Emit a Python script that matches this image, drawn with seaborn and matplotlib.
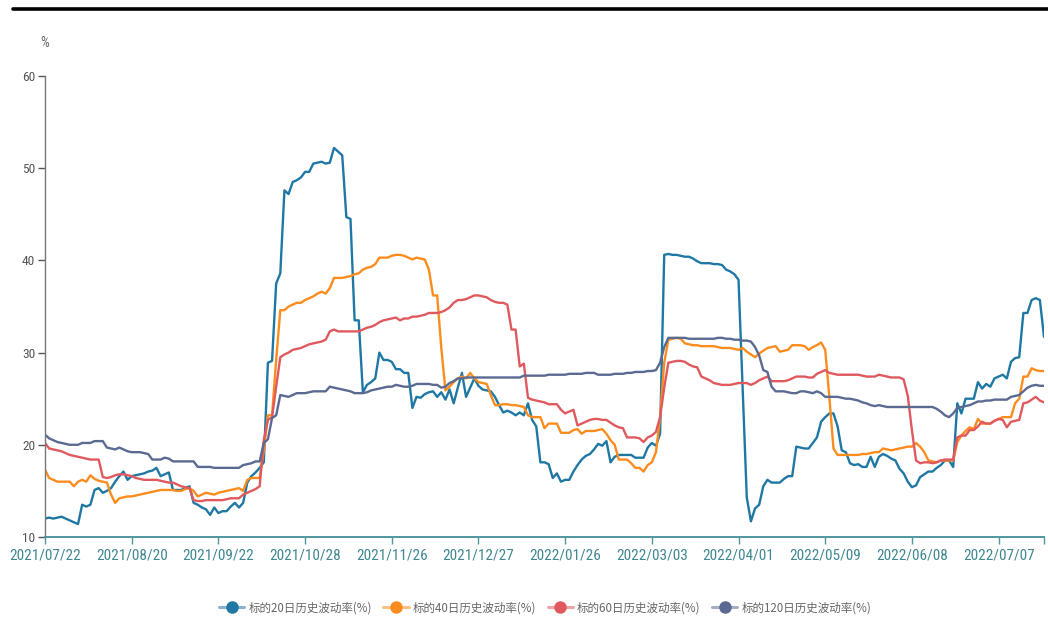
import matplotlib
matplotlib.use("Agg")
import matplotlib.pyplot as plt
from matplotlib.lines import Line2D
from matplotlib import font_manager
import seaborn as sns
import pandas as pd
import numpy as np

# ---------------- data ----------------
tick_labels = ['2021/07/22', '2021/08/20', '2021/09/22', '2021/10/28', '2021/11/26',
               '2021/12/27', '2022/01/26', '2022/03/03', '2022/04/01', '2022/05/09',
               '2022/06/08', '2022/07/07']
series_names = ['标的20日历史波动率(%)', '标的40日历史波动率(%)',
                '标的60日历史波动率(%)', '标的120日历史波动率(%)']

vol20 = [12.0,12.1,12.0,12.1,12.2,12.0,11.8,11.6,11.4,13.5,
         13.3,13.5,15.1,15.3,14.8,15.0,15.3,16.0,16.6,17.1,
         16.2,16.6,16.7,16.8,16.9,17.1,17.2,17.5,16.6,16.8,
         17.0,15.1,15.1,15.1,15.3,15.5,13.7,13.5,13.2,13.0,
         12.4,13.2,12.6,12.8,12.8,13.3,13.7,13.2,13.7,15.9,
         16.6,17.0,17.5,18.1,28.9,29.1,37.5,38.6,47.6,47.2,
         48.5,48.7,49.0,49.6,49.6,50.5,50.6,50.7,50.5,50.6,
         52.2,51.8,51.4,44.7,44.5,33.5,33.5,25.7,26.5,26.8,
         27.2,30.0,29.2,29.2,29.0,28.2,28.2,27.8,27.8,24.0,
         25.2,25.1,25.5,25.7,25.8,25.2,25.7,24.9,26.0,24.5,
         26.2,27.8,25.2,26.2,27.2,26.4,26.0,25.9,25.8,25.2,
         24.3,23.5,23.7,23.5,23.2,23.5,23.2,24.5,22.7,22.0,
         18.1,18.1,17.9,16.4,16.9,16.0,16.2,16.2,17.1,17.8,
         18.4,18.8,19.0,19.5,20.1,19.9,20.4,18.1,18.7,18.9,
         18.9,18.9,18.9,18.6,18.6,18.6,19.7,20.2,19.9,21.2,
         40.6,40.7,40.6,40.6,40.5,40.4,40.4,40.2,39.9,39.7,
         39.7,39.7,39.6,39.6,39.5,39.0,38.8,38.5,37.9,26.0,
         14.3,11.7,13.1,13.5,15.5,16.2,15.9,15.9,15.9,16.3,
         16.6,16.6,19.8,19.7,19.6,19.6,20.2,20.8,22.5,23.0,
         23.4,23.4,22.0,19.4,19.2,18.0,17.8,17.9,17.6,17.6,
         18.7,17.6,18.7,19.0,18.8,18.5,18.3,17.4,16.9,16.0,
         15.4,15.6,16.5,16.8,17.1,17.1,17.5,17.8,18.3,18.3,
         17.6,24.5,23.4,25.0,25.0,25.0,26.8,26.1,26.6,26.3,
         27.2,27.4,27.6,27.2,29.0,29.4,29.5,34.3,34.3,35.7,
         35.9,35.7,31.7]

vol40 = [17.3,16.4,16.2,16.0,16.0,16.0,16.0,15.5,16.0,16.2,
         16.0,16.7,16.3,16.1,16.0,15.9,14.6,13.7,14.2,14.3,
         14.4,14.4,14.5,14.6,14.7,14.8,14.9,15.0,15.1,15.1,
         15.1,15.1,15.0,15.0,15.2,15.3,15.0,14.4,14.6,14.8,
         14.7,14.6,14.8,14.9,15.0,15.1,15.2,15.3,15.0,16.2,
         16.4,16.4,16.4,19.4,23.2,23.2,29.2,34.6,34.6,35.0,
         35.2,35.4,35.4,35.7,35.9,36.1,36.4,36.6,36.4,37.0,
         38.1,38.1,38.1,38.2,38.3,38.5,38.6,39.0,39.2,39.3,
         39.6,40.3,40.3,40.3,40.5,40.6,40.6,40.5,40.3,40.1,
         40.3,40.2,40.1,39.0,36.2,36.2,30.5,25.9,26.3,26.8,
         27.2,27.4,27.2,27.8,27.2,26.8,26.7,26.6,25.4,24.3,
         24.3,24.4,24.4,24.3,24.3,24.2,24.1,23.2,23.0,23.0,
         23.0,21.8,22.3,22.3,22.3,21.3,21.3,21.3,21.6,21.7,
         21.2,21.5,21.5,21.5,21.6,21.7,21.2,20.5,20.0,18.4,
         18.4,18.4,18.0,17.5,17.5,17.1,17.8,18.1,19.2,23.0,
         28.9,31.4,31.5,31.6,31.5,31.0,30.9,30.8,30.8,30.7,
         30.7,30.7,30.7,30.6,30.5,30.5,30.5,30.4,30.3,30.5,
         30.1,29.8,29.5,29.9,30.2,30.5,30.6,30.7,30.1,30.2,
         30.3,30.8,30.8,30.8,30.7,30.3,30.6,30.8,31.1,30.3,
         25.2,19.6,18.9,18.9,18.9,18.9,18.9,18.9,19.0,19.0,
         19.1,19.2,19.2,19.6,19.5,19.4,19.5,19.6,19.7,19.8,
         19.8,20.2,19.8,19.2,18.3,18.2,18.1,18.3,18.3,18.3,
         18.3,20.3,21.0,21.5,21.9,21.7,22.8,22.3,22.3,22.3,
         22.6,22.8,23.0,23.0,23.0,24.5,25.0,27.4,27.4,28.3,
         28.1,28.0,28.0]

vol60 = [20.2,19.6,19.5,19.4,19.3,19.1,18.9,18.8,18.7,18.6,
         18.5,18.4,18.4,18.4,16.5,16.4,16.5,16.7,16.8,16.8,
         16.7,16.6,16.4,16.3,16.2,16.2,16.2,16.2,16.1,16.0,
         15.9,15.9,15.7,15.5,15.4,15.3,14.0,13.9,13.9,14.0,
         14.0,14.0,14.0,14.0,14.1,14.2,14.2,14.2,14.6,14.8,
         15.0,15.2,15.5,20.5,22.7,23.0,26.3,29.5,29.8,30.0,
         30.3,30.4,30.5,30.7,30.9,31.0,31.1,31.2,31.4,32.3,
         32.5,32.3,32.3,32.3,32.3,32.3,32.3,32.5,32.7,32.8,
         33.0,33.3,33.5,33.6,33.7,33.8,33.5,33.7,33.7,33.9,
         33.9,34.0,34.1,34.3,34.3,34.3,34.4,34.6,34.9,35.4,
         35.7,35.7,35.8,36.0,36.2,36.2,36.1,36.0,35.7,35.5,
         35.4,35.4,35.2,32.5,32.5,28.5,28.8,25.1,24.9,24.8,
         24.7,24.6,24.4,24.4,24.4,23.8,23.4,23.6,23.8,22.1,
         22.3,22.5,22.7,22.8,22.8,22.7,22.7,22.4,22.1,21.9,
         21.8,20.8,20.8,20.8,20.7,20.3,20.8,21.0,21.4,23.0,
         26.2,28.9,29.0,29.1,29.1,29.0,28.7,28.5,28.4,27.4,
         27.2,27.0,26.7,26.6,26.5,26.5,26.5,26.6,26.7,26.7,
         26.7,26.5,26.7,27.0,27.2,27.4,26.9,26.9,26.9,26.9,
         27.0,27.2,27.4,27.4,27.4,27.3,27.3,27.7,27.9,28.1,
         27.8,27.7,27.6,27.6,27.6,27.6,27.6,27.6,27.5,27.4,
         27.4,27.4,27.6,27.5,27.4,27.3,27.3,27.3,27.1,25.3,
         21.6,18.3,18.0,18.1,18.1,18.0,18.1,18.3,18.4,18.4,
         18.4,20.8,21.0,21.0,21.6,21.6,22.0,22.5,22.3,22.3,
         22.6,22.8,22.7,21.9,22.5,22.6,22.7,24.5,24.6,24.9,
         25.2,24.8,24.6]

vol120 = [21.1,20.7,20.5,20.3,20.2,20.1,20.0,20.0,20.0,20.2,
          20.2,20.2,20.4,20.4,20.4,19.7,19.6,19.5,19.7,19.5,
          19.3,19.2,19.2,19.2,19.1,19.0,18.4,18.4,18.4,18.6,
          18.5,18.2,18.2,18.2,18.2,18.2,18.2,17.6,17.6,17.6,
          17.6,17.5,17.5,17.5,17.5,17.5,17.5,17.5,17.8,17.9,
          18.0,18.2,18.2,20.2,20.6,22.9,23.2,25.4,25.3,25.2,
          25.4,25.6,25.6,25.6,25.7,25.8,25.8,25.8,25.8,26.3,
          26.2,26.1,26.0,25.9,25.8,25.6,25.6,25.6,25.7,25.9,
          26.0,26.1,26.2,26.3,26.3,26.5,26.4,26.3,26.3,26.4,
          26.6,26.6,26.6,26.6,26.5,26.5,26.2,26.3,26.7,26.9,
          27.2,27.2,27.3,27.3,27.3,27.3,27.3,27.3,27.3,27.3,
          27.3,27.3,27.3,27.3,27.3,27.3,27.5,27.5,27.5,27.5,
          27.5,27.5,27.6,27.6,27.6,27.6,27.6,27.7,27.7,27.7,
          27.7,27.8,27.8,27.8,27.6,27.6,27.6,27.6,27.7,27.7,
          27.7,27.8,27.8,27.9,27.9,27.9,28.0,28.0,28.1,28.9,
          30.6,31.6,31.6,31.6,31.6,31.6,31.5,31.5,31.5,31.5,
          31.5,31.5,31.5,31.6,31.6,31.5,31.5,31.4,31.4,31.3,
          31.3,31.2,30.6,29.7,28.1,27.9,26.3,25.8,25.8,25.8,
          25.7,25.6,25.6,25.8,25.8,25.7,25.6,25.8,25.6,25.2,
          25.2,25.2,25.2,25.1,25.0,25.0,24.9,24.8,24.6,24.5,
          24.3,24.2,24.3,24.2,24.1,24.1,24.1,24.1,24.1,24.1,
          24.1,24.1,24.1,24.1,24.1,24.1,23.9,23.6,23.2,23.0,
          23.4,24.0,24.1,24.2,24.3,24.5,24.7,24.7,24.8,24.8,
          24.9,24.9,24.9,24.9,25.2,25.3,25.4,25.8,26.2,26.4,
          26.5,26.4,26.4]

colors = ['#1f78a4', '#fd8c1e', '#e0595e', '#5b6a91']

# ---------------- fonts ----------------
sns.set_theme(style='white')
avail = {f.name for f in font_manager.fontManager.ttflist}
narrow = next((f for f in ['Liberation Sans Narrow', 'DejaVu Sans Condensed', 'Roboto Condensed',
                           'Roboto', 'DejaVu Sans'] if f in avail), 'DejaVu Sans')
plt.rcParams['font.family'] = ['Noto Sans CJK SC', 'DejaVu Sans']

# ---------------- frame ----------------
n = len(vol20)
df = pd.concat([pd.DataFrame({'idx': np.arange(n), 'value': v, 'series': name})
                for v, name in zip([vol20, vol40, vol60, vol120], series_names)],
               ignore_index=True)

W, H = 1048, 640
fig = plt.figure(figsize=(W / 100, H / 100), dpi=100)
ax = fig.add_axes([45 / W, 1 - 537 / H, (1044 - 45) / W, (537 - 76) / H])

sns.lineplot(data=df, x='idx', y='value', hue='series', hue_order=series_names,
             palette=colors, linewidth=1.7, ax=ax, legend=False)

ax.set_xlim(0, n - 1)
ax.set_ylim(10, 60)
ax.set_xlabel('')
ax.set_ylabel('')
ax.set_yticks([10, 20, 30, 40, 50, 60])
ax.set_yticklabels(['10', '20', '30', '40', '50', '60'], fontfamily=narrow, fontsize=9.6)

tick_pos = [i * 21 for i in range(len(tick_labels))] + [n - 1]
ax.set_xticks(tick_pos)
ax.set_xticklabels(tick_labels + [''], fontfamily=narrow, fontsize=11)

for s in ['top', 'right']:
    ax.spines[s].set_visible(False)
ax.spines['left'].set_color('#777777')
ax.spines['left'].set_linewidth(1.0)
ax.spines['bottom'].set_color('#4e97a0')
ax.spines['bottom'].set_linewidth(1.4)

ax.tick_params(axis='y', direction='out', length=5, width=1, color='#555555',
               labelcolor='#555555', pad=2, left=True)
ax.tick_params(axis='x', direction='out', length=5, width=1, color='#4e97a0',
               labelcolor='#3f8791', pad=3, bottom=True)
ax.grid(False)

# unit label and top rule
fig.text(45 / W, 1 - 43 / H, '%', ha='center', va='center', color='#666666',
         fontsize=10, fontfamily=narrow)
fig.add_artist(Line2D([13 / W, 1.0], [1 - 8.5 / H, 1 - 8.5 / H],
                      transform=fig.transFigure, color='black', linewidth=2.6))

# legend
handles = []
for c in colors:
    ln = Line2D([0], [0], color=c, linewidth=2.2, alpha=0.55)
    mk = Line2D([0], [0], color=c, linestyle='none', marker='o', markersize=8,
                markerfacecolor=c, markeredgecolor=c)
    handles.append((ln, mk))
leg = fig.legend(handles, series_names, loc='center', bbox_to_anchor=(545 / W, 1 - 608 / H),
                 ncol=4, frameon=False, handlelength=2.2, handletextpad=0.35,
                 columnspacing=1.0, prop={'family': ['Noto Sans CJK SC', 'DejaVu Sans'], 'size': 8.3})
for t in leg.get_texts():
    t.set_color('#666666')

fig.savefig('out.png', dpi=100, facecolor='white')
